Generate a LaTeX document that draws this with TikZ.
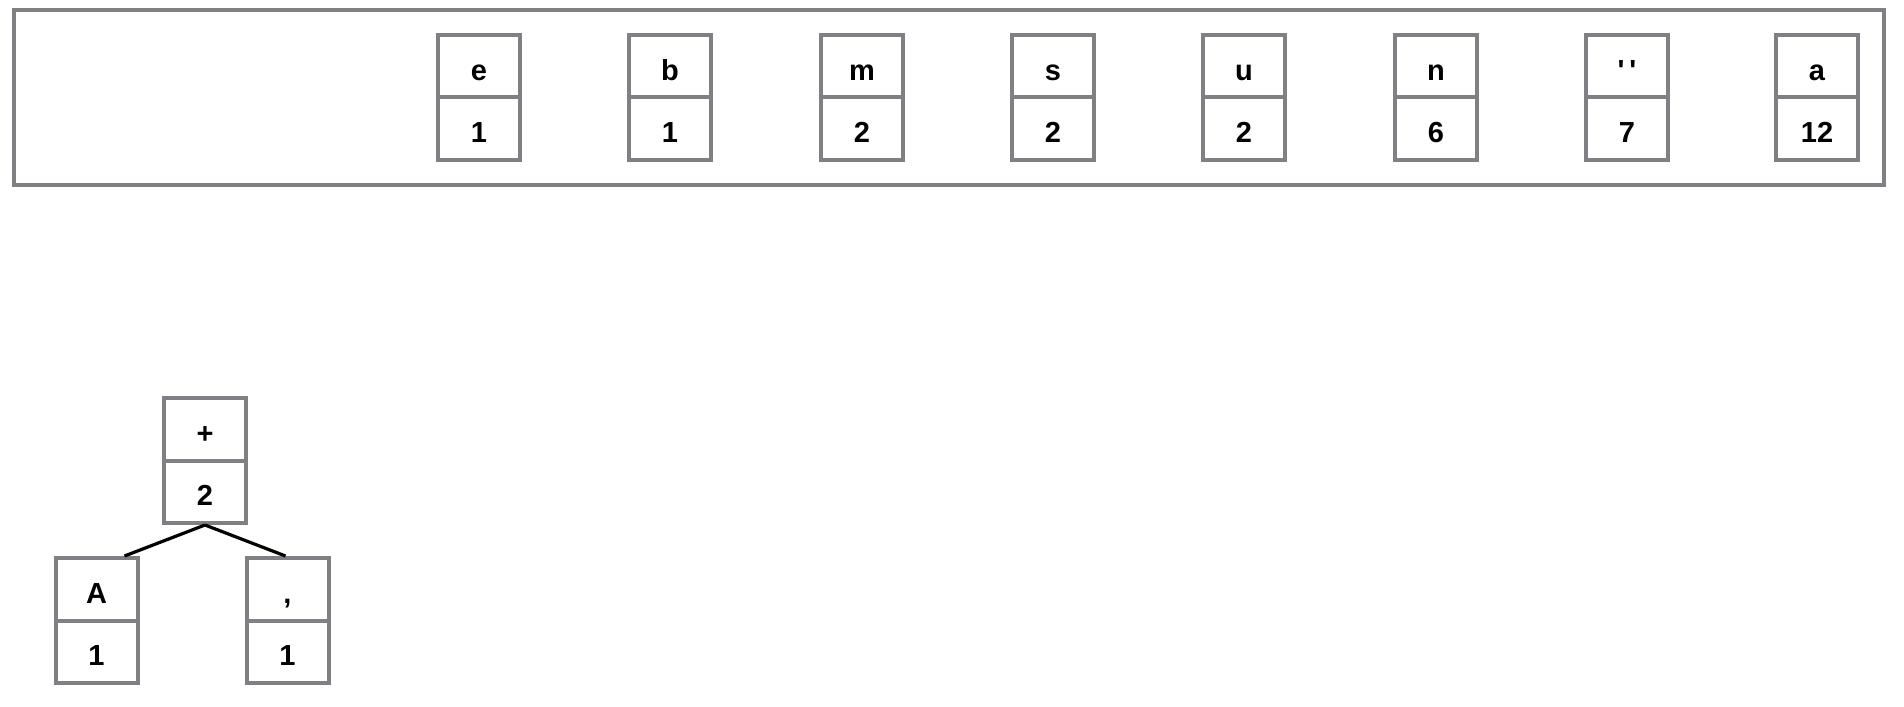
\documentclass[tikz,border=0pt]{standalone}
\usepackage{fontspec}
\setmainfont{Liberation Sans}
\usetikzlibrary{shapes.multipart, calc}

\definecolor{boxgray}{HTML}{808084}
\newcommand{\cellstrut}{\rule[-7.65pt]{0pt}{29.25pt}}
\newcommand{\Cell}[4]{\node[cell] (#1) at (#2) {\cellstrut #3\nodepart{two}\cellstrut #4};}

\begin{document}
\begin{tikzpicture}[x=0.5pt,y=-0.5pt,
  cell/.style={rectangle split, rectangle split parts=2, draw=boxgray, line width=2pt,
    minimum width=41pt, inner sep=0pt, font=\fontsize{14.5}{16}\selectfont\bfseries},
  frame/.style={draw=boxgray, line width=2pt},
  branch/.style={draw=black, line width=1.6pt}]
  %\draw (0, 0) grid (1904, 706);
  \useasboundingbox (0,0) rectangle (1904,706);

  % queue
  \draw[frame] (14,10) rectangle (1884,185);
  \Cell{e}    {479,97.5}{e}{1}
  \Cell{b}    {670,97.5}{b}{1}
  \Cell{m}    {862,97.5}{m}{2}
  \Cell{s}    {1053,97.5}{s}{2}
  \Cell{u}    {1244,97.5}{u}{2}
  \Cell{n}    {1436,97.5}{n}{6}
  \Cell{sp}   {1627,97.5}{\textquotesingle\,\textquotesingle}{7}
  \Cell{a}    {1817,97.5}{a}{12}

  % tree
  \Cell{plus} {205,460.5}{+}{2}
  \Cell{cA}   {96.5,620.5}{A}{1}
  \Cell{comma}{287.5,620.5}{,}{1}

  \draw[branch] (plus.south) -- ($(cA.north)+(28,0)$);
  \draw[branch] (plus.south) -- ($(comma.north)+(-2,0)$);

\end{tikzpicture}
\end{document}
